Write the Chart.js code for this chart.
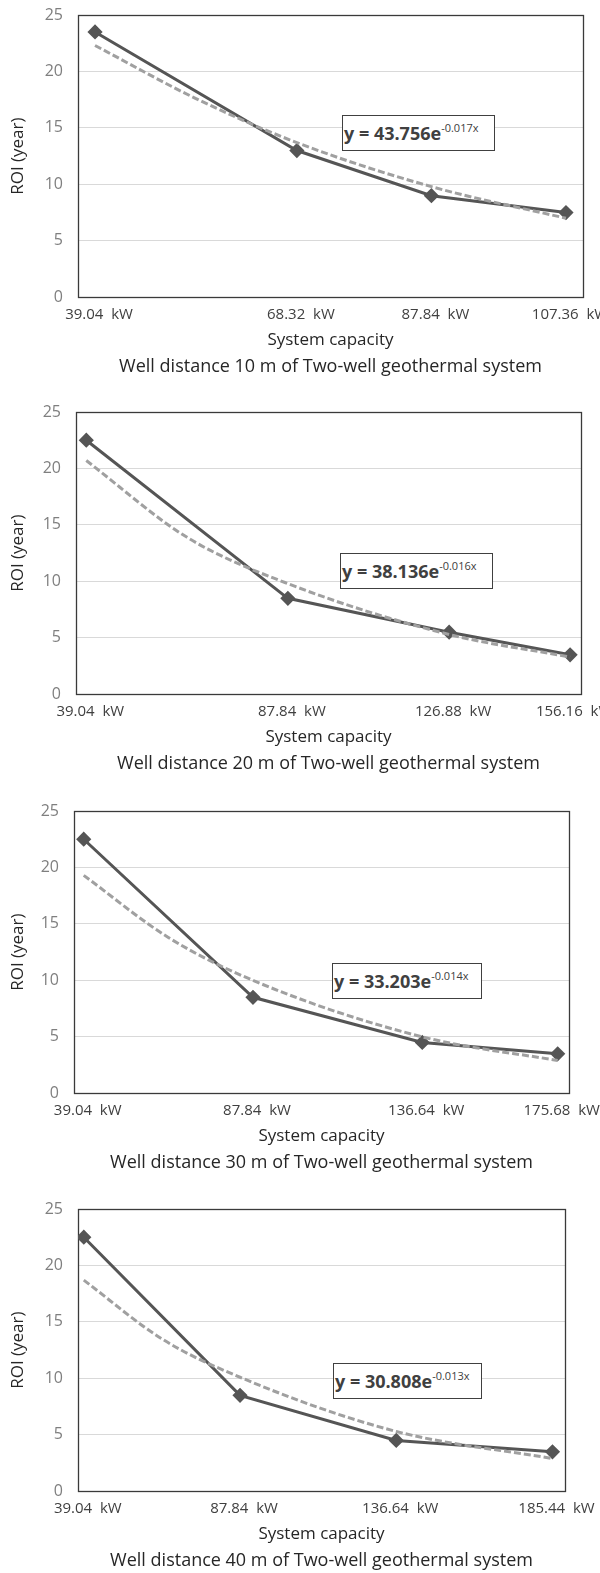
<!DOCTYPE html>
<html>
<head>
<meta charset="utf-8">
<script src="https://cdn.jsdelivr.net/npm/chart.js@4.4.0/dist/chart.umd.min.js"></script>
<style>
  body { margin: 0; background: #fff; }
  #page { position: relative; width: 600px; height: 1573px; overflow: hidden; background: #fff; }
  .panel { position: absolute; left: 0; }
  .eq { position: absolute; box-sizing: border-box; height: 36px; border: 1px solid #404040; background: #fff;
        font-family: "Open Sans", sans-serif; font-weight: bold; font-size: 18px; color: #404040;
        line-height: 34px; padding-left: 1px; white-space: nowrap; }
  .eq sup { font-weight: normal; font-size: 11px; line-height: 0; vertical-align: 8px; }
</style>
</head>
<body>
<div id="page">
  <canvas id="chart10" class="panel" style="top:0px" width="623" height="378"></canvas>
  <canvas id="chart20" class="panel" style="top:397px" width="621" height="378"></canvas>
  <canvas id="chart30" class="panel" style="top:796px" width="609" height="378"></canvas>
  <canvas id="chart40" class="panel" style="top:1194px" width="605" height="378"></canvas>

  <div class="eq" style="left:342px; top:115px; width:153px">y = 43.756e<sup>-0.017x</sup></div>
  <div class="eq" style="left:340px; top:553px; width:153px">y = 38.136e<sup>-0.016x</sup></div>
  <div class="eq" style="left:332px; top:963px; width:150px">y = 33.203e<sup>-0.014x</sup></div>
  <div class="eq" style="left:333px; top:1363px; width:149px">y = 30.808e<sup>-0.013x</sup></div>
</div>
<script>
// well distance 10 m
const capacity10 = [39.04, 68.32, 87.84, 107.36];
const roi10 = [23.5, 13, 9, 7.5];
const labels10 = ["39.04  kW", "68.32  kW", "87.84  kW", "107.36  kW"];
const trendX10 = [39.04, 53.68, 68.32, 87.84, 107.36];
const trendY10 = [22.3, 17.6, 13.7, 9.8, 7.0];

// well distance 20 m
const capacity20 = [39.04, 87.84, 126.88, 156.16];
const roi20 = [22.5, 8.5, 5.5, 3.5];
const labels20 = ["39.04  kW", "87.84  kW", "126.88  kW", "156.16  kW"];
const trendX20 = [39.04, 63.44, 87.84, 126.88, 156.16];
const trendY20 = [20.7, 13.9, 9.8, 5.3, 3.3];

// well distance 30 m
const capacity30 = [39.04, 87.84, 136.64, 175.68];
const roi30 = [22.5, 8.5, 4.5, 3.5];
const labels30 = ["39.04  kW", "87.84  kW", "136.64  kW", "175.68  kW"];
const trendX30 = [39.04, 63.44, 87.84, 136.64, 175.68];
const trendY30 = [19.3, 13.8, 10.0, 5.0, 2.9];

// well distance 40 m
const capacity40 = [39.04, 87.84, 136.64, 185.44];
const roi40 = [22.5, 8.5, 4.5, 3.5];
const labels40 = ["39.04  kW", "87.84  kW", "136.64  kW", "185.44  kW"];
const trendX40 = [39.04, 63.44, 87.84, 136.64, 185.44];
const trendY40 = [18.7, 13.5, 10.1, 5.3, 2.9];

const yTicks = [0, 5, 10, 15, 20, 25];

// black frame round the plot area
const frame = {
  id: "frame",
  beforeDatasetsDraw(chart) {
    const a = chart.chartArea;
    const ctx = chart.ctx;
    ctx.save();
    ctx.strokeStyle = "#3a3a3a";
    ctx.lineWidth = 1.3;
    ctx.strokeRect(Math.round(a.left) + 0.5, Math.round(a.top) + 0.5,
      Math.round(a.right - a.left), Math.round(a.bottom - a.top));
    ctx.restore();
  }
};

function toPoints(xs, ys) {
  let pts = [];
  for (let i = 0; i < xs.length; i++) {
    pts.push({ x: xs[i], y: ys[i] });
  }
  return pts;
}

function drawPanel(id, xs, ys, labels, tx, ty, caption, xMin, xMax, yWidth) {
  new Chart(id, {
    type: "line",
    data: {
      datasets: [{
        label: "trend",
        data: toPoints(tx, ty),
        borderColor: "#a0a0a0",
        borderWidth: 3,
        borderDash: [7, 3],
        pointRadius: 0,
        cubicInterpolationMode: "monotone",
        fill: false,
        order: 1
      }, {
        label: "ROI",
        data: toPoints(xs, ys),
        borderColor: "#555555",
        backgroundColor: "#555555",
        borderWidth: 3,
        pointStyle: "rectRot",
        pointRadius: 5.5,
        pointBackgroundColor: "#555555",
        pointBorderColor: "#555555",
        tension: 0,
        fill: false,
        order: 2
      }]
    },
    options: {
      responsive: false,
      animation: false,
      layout: { padding: { left: 0, right: 40, top: 15, bottom: 0.7 } },
      plugins: {
        legend: { display: false },
        tooltip: { enabled: false },
        title: {
          display: true,
          text: caption,
          position: "bottom",
          fullSize: false,
          color: "#262626",
          font: { family: "Open Sans", size: 18, weight: "normal" },
          padding: { top: 5.8, bottom: 0 }
        }
      },
      scales: {
        x: {
          type: "linear",
          min: xMin,
          max: xMax,
          afterBuildTicks: (scale) => { scale.ticks = xs.map(v => ({ value: v })); },
          afterFit: (scale) => { scale.height = 52.6; },
          grid: { display: false, drawTicks: false },
          border: { display: false },
          ticks: {
            autoSkip: false,
            maxRotation: 0,
            padding: 8.7,
            labelOffset: 4,
            color: "#404040",
            font: { family: "Open Sans", size: 15 },
            callback: (value, index) => labels[index]
          },
          title: {
            display: true,
            text: "System capacity",
            color: "#262626",
            font: { family: "Open Sans", size: 17 },
            padding: { top: 0, bottom: 0 }
          }
        },
        y: {
          min: 0,
          max: 25,
          afterBuildTicks: (scale) => { scale.ticks = yTicks.map(v => ({ value: v })); },
          afterFit: (scale) => {
            scale.width = yWidth;
            scale.paddingTop = 0;
            scale.paddingBottom = 0;
          },
          grid: { color: "#d9d9d9", lineWidth: 1, drawTicks: false },
          border: { display: false },
          ticks: {
            padding: 15,
            color: "#7f7f7f",
            font: { family: "Open Sans", size: 16 }
          },
          title: {
            display: true,
            text: "ROI (year)",
            color: "#262626",
            font: { family: "Open Sans", size: 17 },
            padding: { top: 8, bottom: 0 }
          }
        }
      }
    },
    plugins: [frame]
  });
}

drawPanel("chart10", capacity10, roi10, labels10, trendX10, trendY10,
  "Well distance 10 m of Two-well geothermal system", 36.57, 109.83, 78);
drawPanel("chart20", capacity20, roi20, labels20, trendX20, trendY20,
  "Well distance 20 m of Two-well geothermal system", 36.55, 158.8, 76);
drawPanel("chart30", capacity30, roi30, labels30, trendX30, trendY30,
  "Well distance 30 m of Two-well geothermal system", 36.24, 178.94, 74);
drawPanel("chart40", capacity40, roi40, labels40, trendX40, trendY40,
  "Well distance 40 m of Two-well geothermal system", 37.23, 189.35, 78);
</script>
</body>
</html>
